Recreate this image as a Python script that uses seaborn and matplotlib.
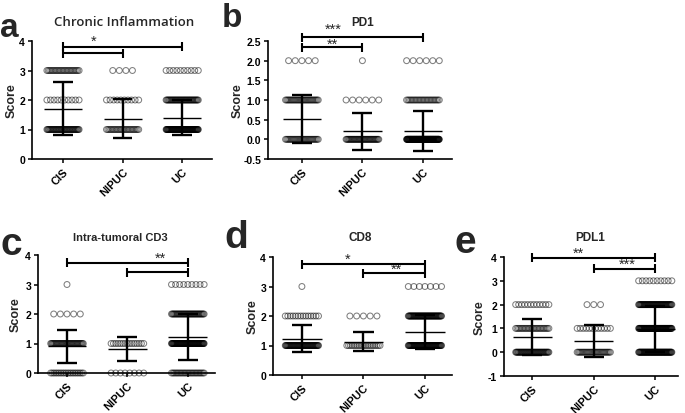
import numpy as np
import pandas as pd
import matplotlib
matplotlib.use("Agg")
import matplotlib.pyplot as plt
import seaborn as sns

# ---------------- data ----------------
groups = ["CIS", "NIPUC", "UC"]

# a: Chronic Inflammation
a_levels = [1, 2, 3]
a_counts = [[45, 10, 25], [25, 10, 4], [80, 40, 10]]
a_mean = [1.71, 1.37, 1.40]
a_sd = [0.89, 0.67, 0.59]

# b: PD1
b_levels = [0, 1, 2]
b_counts = [[30, 30, 5], [40, 6, 1], [120, 25, 6]]
b_mean = [0.52, 0.20, 0.215]
b_sd = [0.615, 0.46, 0.505]

# c: Intra-tumoral CD3
c_levels = [0, 1, 2, 3]
c_counts = [[20, 40, 5, 1], [8, 15, 0, 0], [25, 80, 40, 9]]
c_mean = [0.905, 0.81, 1.22]
c_sd = [0.565, 0.40, 0.77]

# d: CD8
d_levels = [1, 2, 3]
d_counts = [[60, 14, 1], [20, 5, 0], [70, 60, 7]]
d_mean = [1.23, 1.13, 1.455]
d_sd = [0.45, 0.33, 0.575]

# e: PDL1
e_levels = [0, 1, 2, 3]
e_counts = [[50, 25, 12, 0], [30, 12, 3, 0], [70, 80, 60, 10]]
e_mean = [0.63, 0.47, 0.98]
e_sd = [0.76, 0.66, 0.98]

titles = ["Chronic Inflammation", "PD1", "Intra-tumoral CD3", "CD8", "PDL1"]
letters = ["a", "b", "c", "d", "e"]

# significance: (x_from, x_to, y, label, label_x, label_y)
a_sig = [(0, 2, 3.81, "", 0, 0), (0, 1, 3.59, "*", 0.51, 4.0)]
b_sig = [(0, 2, 2.59, "***", 0.51, 2.80), (0, 1, 2.34, "**", 0.51, 2.42)]
c_sig = [(0, 2, 3.74, "**", 1.54, 3.92), (1, 2, 3.42, "", 0, 0)]
d_sig = [(0, 2, 3.76, "*", 0.75, 3.93), (1, 2, 3.45, "**", 1.54, 3.60)]
e_sig = [(0, 2, 3.96, "**", 0.75, 4.17), (1, 2, 3.50, "***", 1.54, 3.70)]

# ---------------- style ----------------
sns.set_style("ticks")
plt.rcParams["font.family"] = ["Liberation Sans", "DejaVu Sans"]
plt.rcParams["axes.unicode_minus"] = False

W, H = 685, 414
fig = plt.figure(figsize=(W / 100, H / 100), dpi=100)


def rect(x0, yt, x1, yb):
    return [x0 / W, 1 - yb / H, (x1 - x0) / W, (yb - yt) / H]


panels = [
    dict(box=(32, 42, 212, 160), xlim=(-0.52, 2.50), ylim=(0, 4), yt=[0, 1, 2, 3, 4], fmt="%d",
         levels=a_levels, counts=a_counts, mean=a_mean, sd=a_sd, sig=a_sig,
         title_xy=(124, 23), letter_xy=(0, 37), letter_fs=24, ylab_x=12,
         tfont="Open Sans", tfs=9.5, tw="semibold"),
    dict(box=(268, 42, 452, 160), xlim=(-0.56, 2.48), ylim=(-0.5, 2.5),
         yt=[-0.5, 0, 0.5, 1.0, 1.5, 2.0, 2.5], fmt="%.1f",
         levels=b_levels, counts=b_counts, mean=b_mean, sd=b_sd, sig=b_sig,
         title_xy=(363, 23), letter_xy=(222, 27), letter_fs=24, ylab_x=238,
         tfont="Liberation Sans", tfs=8.5, tw="bold"),
    dict(box=(38, 256, 215, 374), xlim=(-0.48, 2.45), ylim=(0, 4), yt=[0, 1, 2, 3, 4], fmt="%d",
         levels=c_levels, counts=c_counts, mean=c_mean, sd=c_sd, sig=c_sig,
         title_xy=(120, 238), letter_xy=(0, 255), letter_fs=28, ylab_x=16,
         tfont="Liberation Sans", tfs=8, tw="bold"),
    dict(box=(273, 258, 452, 376), xlim=(-0.47, 2.44), ylim=(0, 4), yt=[0, 1, 2, 3, 4], fmt="%d",
         levels=d_levels, counts=d_counts, mean=d_mean, sd=d_sd, sig=d_sig,
         title_xy=(360, 238), letter_xy=(224, 248), letter_fs=28, ylab_x=253,
         tfont="Liberation Sans", tfs=8.5, tw="bold"),
    dict(box=(504, 258, 678, 377), xlim=(-0.46, 2.37), ylim=(-1, 4), yt=[-1, 0, 1, 2, 3, 4], fmt="%d",
         levels=e_levels, counts=e_counts, mean=e_mean, sd=e_sd, sig=e_sig,
         title_xy=(590, 238), letter_xy=(455, 253), letter_fs=28, ylab_x=480,
         tfont="Liberation Sans", tfs=8.5, tw="bold"),
]

SPACING = 0.11
MAXSPAN = 0.54

for k, p in enumerate(panels):
    ax = fig.add_axes(rect(*p["box"]))
    rows = []
    for gi, g in enumerate(groups):
        for lev, n in zip(p["levels"], p["counts"][gi]):
            if n <= 0:
                continue
            span = min((n - 1) * SPACING, MAXSPAN)
            offs = np.linspace(-span / 2, span / 2, n) if n > 1 else np.array([0.0])
            for o in offs:
                rows.append({"group": g, "pos": gi + o, "score": lev})
    df = pd.DataFrame(rows)
    sns.scatterplot(data=df, x="pos", y="score", ax=ax, marker="o", s=18,
                    facecolor="none", edgecolor="black", alpha=0.5, linewidth=0.75,
                    legend=False, clip_on=False, zorder=2)
    for gi in range(len(groups)):
        m, s = p["mean"][gi], p["sd"][gi]
        ax.hlines(m, gi - 0.32, gi + 0.32, color="black", lw=1.0, zorder=4, clip_on=False)
        ax.vlines(gi, m - s, m + s, color="black", lw=1.7, zorder=4, clip_on=False)
        ax.hlines([m - s, m + s], gi - 0.165, gi + 0.165, color="black", lw=1.7, zorder=4, clip_on=False)
    ax.set_xlim(*p["xlim"])
    ax.set_ylim(*p["ylim"])
    ax.set_yticks(p["yt"])
    ax.set_yticklabels([p["fmt"] % v for v in p["yt"]], fontsize=7.5, fontweight="bold")
    ax.set_xticks(range(len(groups)))
    ax.set_xticklabels(groups, rotation=45, ha="right", rotation_mode="anchor",
                       fontsize=8, fontweight="bold")
    ax.set_xlabel("")
    ax.set_ylabel("")
    ax.tick_params(axis="both", length=3, width=1.1, pad=2, colors="black")
    for sp in ["left", "bottom"]:
        ax.spines[sp].set_linewidth(1.2)
        ax.spines[sp].set_color("black")
    sns.despine(ax=ax)
    px_per_unit = (p["box"][3] - p["box"][1]) / (p["ylim"][1] - p["ylim"][0])
    cap = 4.5 / px_per_unit
    for (x0, x1, y, lab, lx, ly) in p["sig"]:
        ax.plot([x0, x1], [y, y], color="black", lw=1.5, clip_on=False, zorder=5,
                solid_capstyle="butt")
        ax.vlines([x0, x1], y - cap, y + cap, color="black", lw=1.5, clip_on=False, zorder=5)
        if lab:
            ax.text(lx, ly, lab, ha="center", va="center", fontsize=10.5, clip_on=False)
    tx, ty = p["title_xy"]
    fig.text(tx / W, 1 - ty / H, titles[k], ha="center", va="center",
             fontsize=p["tfs"], family=p["tfont"], fontweight=p["tw"])
    lx, ly = p["letter_xy"]
    fig.text(lx / W, 1 - ly / H, letters[k], ha="left", va="baseline",
             fontsize=p["letter_fs"], fontweight="bold")
    ymid = (p["box"][1] + p["box"][3]) / 2
    fig.text(p["ylab_x"] / W, 1 - ymid / H, "Score", rotation=90, ha="center", va="center",
             fontsize=9, fontweight="bold")

fig.savefig("out.png", dpi=100)
